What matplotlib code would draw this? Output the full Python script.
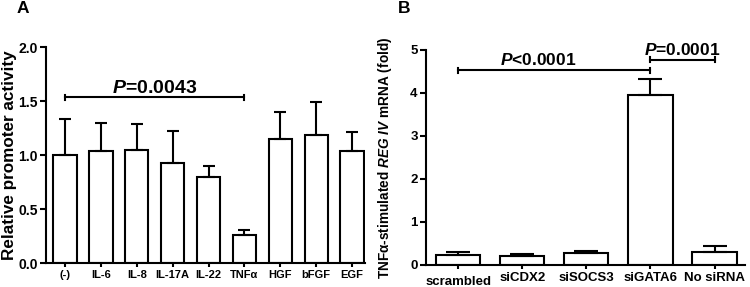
import matplotlib
matplotlib.use("Agg")
import matplotlib.pyplot as plt
import numpy as np

plt.rcParams['font.family'] = ['Liberation Sans', 'DejaVu Sans']
plt.rcParams['font.weight'] = 'bold'
plt.rcParams['axes.labelweight'] = 'bold'
plt.rcParams['mathtext.fontset'] = 'custom'
plt.rcParams['mathtext.rm'] = 'Liberation Sans:bold'
plt.rcParams['mathtext.bf'] = 'Liberation Sans:bold'
plt.rcParams['mathtext.it'] = 'Liberation Sans:bold:italic'
plt.rcParams['mathtext.bfit'] = 'Liberation Sans:bold:italic'

# panel A data
labels_a = ['(-)', 'IL-6', 'IL-8', 'IL-17A', 'IL-22', 'TNFα', 'HGF', 'bFGF', 'EGF']
means_a = [1.00, 1.04, 1.05, 0.93, 0.80, 0.26, 1.15, 1.19, 1.04]
sem_a = [0.33, 0.26, 0.24, 0.29, 0.095, 0.05, 0.25, 0.305, 0.17]

# panel B data
labels_b = ['scrambled', 'siCDX2', 'siSOCS3', 'siGATA6', 'No siRNA']
means_b = [0.225, 0.22, 0.28, 3.95, 0.31]
sem_b = [0.07, 0.04, 0.045, 0.38, 0.13]

lw = 1.5
fig = plt.figure(figsize=(7.5, 2.87), dpi=100)

def style(ax):
    for s in ['top', 'right']:
        ax.spines[s].set_visible(False)
    for s in ['left', 'bottom']:
        ax.spines[s].set_linewidth(lw)
    ax.tick_params(axis='y', width=lw, length=4, pad=2)
    ax.tick_params(axis='x', width=lw, length=3, pad=2)
    for t in ax.get_xticklabels() + ax.get_yticklabels():
        t.set_fontweight('bold')

def bracket(ax, x1, x2, y, h, txt, tx, ty, fs):
    ax.plot([x1, x2], [y, y], color='black', lw=lw)
    ax.plot([x1, x1], [y - h, y + h], color='black', lw=lw)
    ax.plot([x2, x2], [y - h, y + h], color='black', lw=lw)
    ax.text(tx, ty, txt, ha='center', va='baseline', fontsize=fs, fontweight='bold')

# --- A ---
axa = fig.add_axes([0.0613, 0.0836, 0.4254, 0.7524])
xa = np.arange(len(labels_a))
axa.bar(xa, means_a, width=0.65, color='white', edgecolor='black', linewidth=lw,
        yerr=[np.zeros(len(sem_a)), sem_a], capsize=4.5,
        error_kw=dict(elinewidth=lw, capthick=lw, ecolor='black'), zorder=2)
axa.set_xlim(-0.53, 8.36)
axa.set_ylim(0, 2.0)
axa.set_yticks([0.0, 0.5, 1.0, 1.5, 2.0])
axa.set_yticklabels(['0.0', '0.5', '1.0', '1.5', '2.0'], fontsize=10)
axa.set_xticks(xa)
axa.set_xticklabels(labels_a, fontsize=8)
axa.set_ylabel('Relative promoter activity', fontsize=12.3, fontweight='bold')
axa.yaxis.set_label_coords(-0.113, 0.5)
axa.yaxis.label.set_va('center')
style(axa)
bracket(axa, 0, 5, 1.535, 0.025, '$\\mathit{P}$=0.0043', 2.5, 1.575, 14)
fig.text(0.022, 0.969, 'A', fontsize=12.5, ha='left', va='center', fontweight='bold')

# --- B ---
axb = fig.add_axes([0.568, 0.0767, 0.425, 0.7491])
xb = np.arange(len(labels_b))
axb.bar(xb, means_b, width=0.69, color='white', edgecolor='black', linewidth=lw,
        yerr=[np.zeros(len(sem_b)), sem_b], capsize=8.5,
        error_kw=dict(elinewidth=lw, capthick=lw, ecolor='black'), zorder=2)
axb.set_xlim(-0.5, 4.47)
axb.set_ylim(0, 5)
axb.set_yticks([0, 1, 2, 3, 4, 5])
axb.set_yticklabels(['0', '1', '2', '3', '4', '5'], fontsize=9.5)
axb.set_xticks(xb)
axb.set_xticklabels(labels_b, fontsize=9.5)
axb.get_xticklabels()[0].set_y(-0.02)
axb.set_ylabel('TNFα-stimulated $\\mathit{REG\\ IV}$ mRNA (fold)', fontsize=9.8, fontweight='bold')
axb.yaxis.set_label_coords(-0.128, 0.5)
axb.yaxis.label.set_va('center')
style(axb)
bracket(axb, 0, 3, 4.53, 0.06, '$\\mathit{P}$<0.0001', 1.25, 4.65, 12.5)
bracket(axb, 3, 4, 4.77, 0.06, '$\\mathit{P}$=0.0001', 3.5, 4.88, 12.5)
fig.text(0.530, 0.969, 'B', fontsize=12.5, ha='left', va='center', fontweight='bold')

fig.savefig('out.png', dpi=100)
